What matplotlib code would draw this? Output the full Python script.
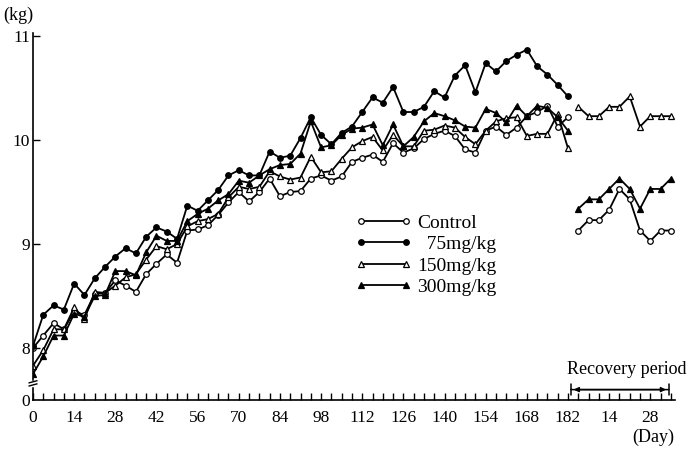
import matplotlib
matplotlib.use('Agg')
import matplotlib.pyplot as plt
import numpy as np

plt.rcParams['font.family'] = ['Liberation Serif', 'DejaVu Serif']

# dosing period, body weight (kg), weighed twice a week
dias = np.arange(0, 182.1, 3.5)
control = [8.00, 8.12, 8.24, 8.18, 8.35, 8.32, 8.52, 8.53, 8.65, 8.60, 8.54,
           8.71, 8.81, 8.90, 8.82, 9.13, 9.14, 9.18, 9.28, 9.40, 9.50, 9.41, 9.50,
           9.63, 9.46, 9.50, 9.51, 9.63, 9.66, 9.61, 9.65, 9.79, 9.83, 9.86,
           9.79, 9.97, 9.88, 9.92, 10.01, 10.06, 10.09, 10.04, 9.91, 9.88,
           10.09, 10.13, 10.05, 10.12, 10.23, 10.27, 10.33, 10.13, 10.22]
mg75 = [8.02, 8.32, 8.41, 8.37, 8.62, 8.51, 8.67, 8.78, 8.88, 8.96, 8.91,
        9.07, 9.16, 9.12, 9.05, 9.37, 9.32, 9.42, 9.52, 9.66, 9.71, 9.66, 9.66,
        9.89, 9.83, 9.85, 10.02, 10.22, 10.05, 9.96, 10.07, 10.13, 10.27, 10.41,
        10.36, 10.51, 10.27, 10.27, 10.32, 10.47, 10.41, 10.62, 10.72, 10.46,
        10.74, 10.66, 10.76, 10.82, 10.87, 10.71, 10.63, 10.53, 10.42]
mg150 = [7.83, 7.98, 8.18, 8.18, 8.39, 8.28, 8.54, 8.53, 8.60, 8.68, 8.71,
         8.85, 8.98, 8.95, 9.00, 9.17, 9.22, 9.24, 9.29, 9.45, 9.55, 9.53, 9.55,
         9.70, 9.65, 9.62, 9.64, 9.84, 9.69, 9.70, 9.82, 9.93, 9.99, 10.03,
         9.90, 10.05, 9.94, 9.94, 10.09, 10.10, 10.14, 10.12, 10.03, 9.96,
         10.09, 10.18, 10.21, 10.22, 10.04, 10.06, 10.06, 10.25, 9.92]
mg300 = [7.75, 7.92, 8.12, 8.12, 8.33, 8.30, 8.50, 8.51, 8.74, 8.74, 8.70,
         8.92, 9.08, 9.03, 9.03, 9.22, 9.29, 9.34, 9.42, 9.48, 9.61, 9.59, 9.66,
         9.72, 9.76, 9.77, 9.87, 10.18, 9.93, 9.95, 10.05, 10.11, 10.12, 10.15,
         9.95, 10.15, 9.94, 10.03, 10.18, 10.26, 10.23, 10.19, 10.13, 10.12,
         10.30, 10.26, 10.17, 10.33, 10.23, 10.33, 10.31, 10.22, 10.09]

# recovery period
dias_rec = [185.5, 189, 192.5, 196, 199.5, 203, 206.5, 210, 213.5, 217]
rec_control = [9.13, 9.23, 9.23, 9.33, 9.53, 9.43, 9.13, 9.03, 9.13, 9.13]
rec_150 = [10.32, 10.23, 10.23, 10.32, 10.32, 10.42, 10.13, 10.23, 10.23, 10.23]
rec_300 = [9.34, 9.43, 9.43, 9.53, 9.63, 9.53, 9.34, 9.53, 9.53, 9.63]

etiquetas = ['Control', '  75mg/kg', '150mg/kg', '300mg/kg']
ticks_x = [0, 14, 28, 42, 56, 70, 84, 98, 112, 126, 140, 154, 168, 182, 196, 210]
etiquetas_x = ['0', '14', '28', '42', '56', '70', '84', '98', '112', '126', '140',
               '154', '168', '182', '14', '28']

estilos = [dict(marker='o', mfc='white', ms=4),
           dict(marker='o', mfc='black', ms=4),
           dict(marker='^', mfc='white', ms=5),
           dict(marker='^', mfc='black', ms=5)]

fig = plt.figure(figsize=(6.89, 4.49), dpi=100)
ax = fig.add_axes([33/689, 1 - 400/449, 642/689, 367/449])

lineas = []
for serie, est, etq in zip([control, mg75, mg150, mg300], estilos, etiquetas):
    l, = ax.plot(dias, serie, color='black', lw=1.3, mec='black', mew=0.9,
                 label=etq, **est)
    lineas.append(l)

for serie, est in zip([rec_control, rec_150, rec_300], [estilos[0], estilos[2], estilos[3]]):
    ax.plot(dias_rec, serie, color='black', lw=1.3, mec='black', mew=0.9, **est)

ax.set_xlim(0, 218.4)
ax.set_ylim(7.5, 11.03)
ax.spines['top'].set_visible(False)
ax.spines['right'].set_visible(False)
ax.spines['left'].set_linewidth(1.2)
ax.spines['bottom'].set_linewidth(1.2)

ax.set_xticks(ticks_x)
ax.set_xticklabels(etiquetas_x, fontsize=12.5)
ax.set_xticks(np.arange(0, 218, 3.5), minor=True)
ax.tick_params(axis='x', which='both', direction='in', length=5, width=1, pad=7)

ax.set_yticks([7.5, 8, 9, 10, 11])
ax.set_yticklabels(['0', '8', '9', '10', '11'], fontsize=12.5)
ax.tick_params(axis='y', direction='in', length=5, width=1, pad=2)
ax.yaxis.get_major_ticks()[0].tick1line.set_visible(False)

# corte del eje y
ax.plot([0, 0], [7.645, 7.675], transform=ax.get_yaxis_transform(), color='white',
        lw=2.5, clip_on=False, zorder=5)
for y0 in [7.635, 7.665]:
    ax.plot([-0.006, 0.006], [y0, y0 + 0.02], transform=ax.get_yaxis_transform(),
            color='black', lw=1, clip_on=False, zorder=6)

# periodo de recuperacion
ax.annotate('', xy=(182, 7.6), xytext=(217.3, 7.6),
            arrowprops=dict(arrowstyle='|-|', lw=1.1, mutation_scale=4), annotation_clip=False)
ax.annotate('', xy=(183, 7.6), xytext=(216.3, 7.6),
            arrowprops=dict(arrowstyle='<|-|>', lw=1.1, color='black', mutation_scale=7),
            annotation_clip=False)
ax.text(181.5, 7.79, 'Recovery period', fontsize=13, ha='left', va='center', clip_on=False)

fig.text(0.005, 0.965, '(kg)', fontsize=13, ha='left', va='center')
fig.text(0.978, 0.027, '(Day)', fontsize=13, ha='right', va='center')

ax.legend(handles=lineas, loc='upper left', bbox_to_anchor=(355/689, 1 - 214/449),
          bbox_transform=fig.transFigure, frameon=False, fontsize=14, numpoints=2,
          handlelength=2.9, handletextpad=0.3, labelspacing=0.2, borderpad=0,
          borderaxespad=0)

plt.savefig('out.png', dpi=100)
